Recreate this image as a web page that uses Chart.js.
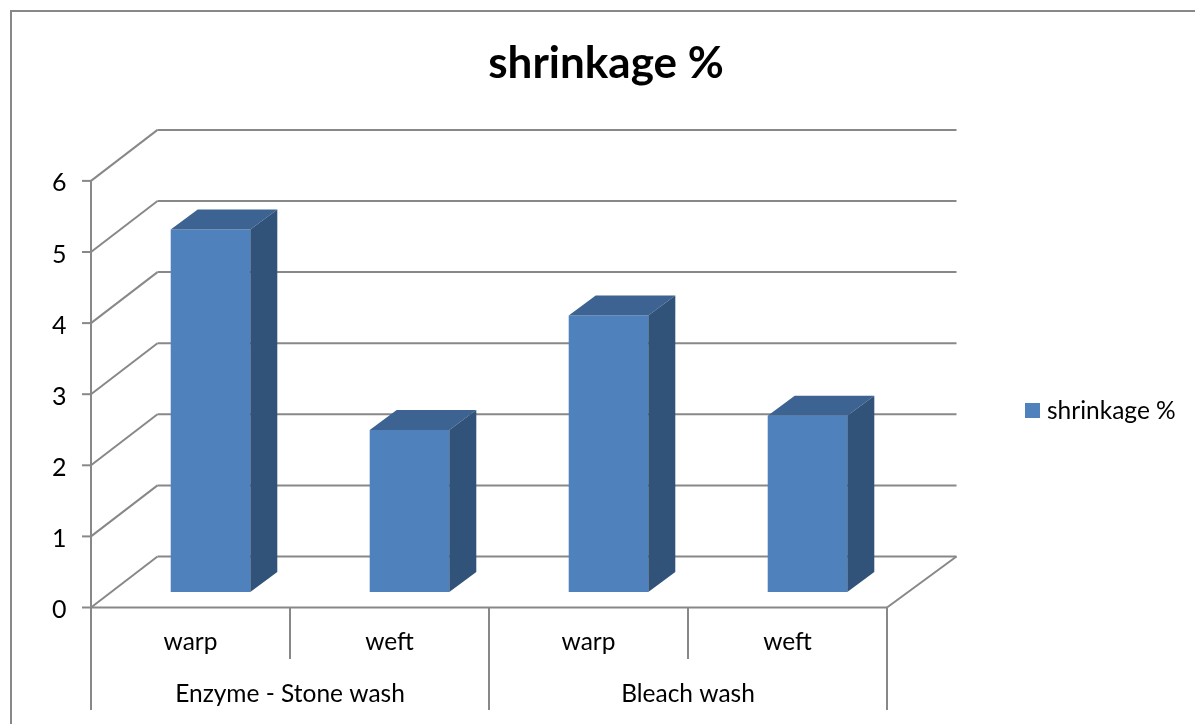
<!DOCTYPE html>
<html>
<head>
<meta charset="utf-8">
<title>shrinkage %</title>
<script src="https://cdn.jsdelivr.net/npm/chart.js@4/dist/chart.umd.min.js"></script>
<style>
  html, body { margin: 0; padding: 0; background: #fff; }
  canvas { display: block; }
</style>
</head>
<body>
<canvas id="chart" width="1195" height="724"></canvas>
<script>
const seriesName = 'shrinkage %';
const categories = ['warp', 'weft', 'warp', 'weft'];
const groups = ['Enzyme - Stone wash', 'Bleach wash'];
const shrinkage = [5.1, 2.28, 3.89, 2.48];
const yTicks = [0, 1, 2, 3, 4, 5, 6];

const FONT = 'Lato, Carlito, sans-serif';
const LINE = '#888888';

// Pseudo-3D box: bars sit mid-way between the front plane and the back wall
const FRONT = { dx: -20, dy: 15.5 };
const BACK = { dxLeft: 46.5, dxRight: 49.5, dy: -35.5 };
const BAR_DEPTH = { dx: 27, dy: -20 };

function segment(ctx, x1, y1, x2, y2) {
    ctx.beginPath();
    ctx.moveTo(x1, y1);
    ctx.lineTo(x2, y2);
    ctx.stroke();
}

function face(ctx, color, pts) {
    ctx.fillStyle = color;
    ctx.beginPath();
    pts.forEach(([x, y], i) => (i ? ctx.lineTo(x, y) : ctx.moveTo(x, y)));
    ctx.closePath();
    ctx.fill();
}

const box3d = {
    id: 'box3d',
    // walls, floor and axis lines go behind the bars
    beforeDatasetsDraw(chart) {
        const { ctx, chartArea: area, scales: { y } } = chart;
        const left = area.left + FRONT.dx;
        const right = area.right + FRONT.dx;
        const backLeft = area.left + BACK.dxLeft;
        const backRight = area.right + BACK.dxRight;
        const floorY = y.getPixelForValue(0) + FRONT.dy;

        ctx.save();
        ctx.strokeStyle = LINE;
        ctx.lineWidth = 2;

        // outer frame runs off the page on the right and bottom
        ctx.strokeRect(11, 11, chart.width + 20, chart.height + 20);

        yTicks.forEach(v => {
            const py = y.getPixelForValue(v);
            segment(ctx, left - 9, py + FRONT.dy, left, py + FRONT.dy);
            segment(ctx, left, py + FRONT.dy, backLeft, py + BACK.dy);
            segment(ctx, backLeft, py + BACK.dy, backRight, py + BACK.dy);
        });

        segment(ctx, left, y.getPixelForValue(6) + FRONT.dy, left, 710);
        segment(ctx, left, floorY, right, floorY);
        segment(ctx, right, floorY, backRight, y.getPixelForValue(0) + BACK.dy);

        // category separators: short between pairs, long between groups
        const step = (right - left) / categories.length;
        categories.forEach((_, i) => {
            segment(ctx, left + step * (i + 1), floorY, left + step * (i + 1), i % 2 ? 710 : 659);
        });
        ctx.restore();
    },
    afterDatasetsDraw(chart) {
        const { ctx, scales: { x } } = chart;
        const { dx, dy } = BAR_DEPTH;
        ctx.save();
        chart.getDatasetMeta(0).data.forEach(bar => {
            const l = bar.x - bar.width / 2;
            const r = bar.x + bar.width / 2;
            face(ctx, '#3c6392', [[l, bar.y], [l + dx, bar.y + dy], [r + dx, bar.y + dy], [r, bar.y]]);
            face(ctx, '#325379', [[r, bar.y], [r + dx, bar.y + dy], [r + dx, bar.base + dy], [r, bar.base]]);
        });

        // group labels under the category labels
        ctx.fillStyle = '#000';
        ctx.font = '24.5px ' + FONT;
        ctx.textAlign = 'center';
        ctx.textBaseline = 'middle';
        groups.forEach((name, i) => {
            const mid = (x.getPixelForTick(i * 2) + x.getPixelForTick(i * 2 + 1)) / 2;
            ctx.fillText(name, mid + FRONT.dx, 694);
        });

        // legend
        ctx.fillStyle = '#4f81bd';
        ctx.fillRect(1025, 403, 15, 15);
        ctx.fillStyle = '#000';
        ctx.textAlign = 'left';
        ctx.fillText(seriesName, 1047, 411);
        ctx.restore();
    },
};

new Chart(document.getElementById('chart'), {
    type: 'bar',
    data: {
        labels: categories,
        datasets: [{
            label: seriesName,
            data: shrinkage,
            backgroundColor: '#4f81bd',
            barPercentage: 0.4,
            categoryPercentage: 1,
        }],
    },
    plugins: [box3d],
    options: {
        responsive: false,
        animation: false,
        layout: { padding: { left: 17, right: 0, top: 0, bottom: 68 } },
        plugins: {
            legend: { display: false },
            tooltip: { enabled: false },
            title: {
                display: true,
                text: seriesName,
                color: '#000',
                font: { family: FONT, size: 44, weight: 'bold', lineHeight: 1.2 },
                padding: { top: 37.6, bottom: 75 },
            },
        },
        scales: {
            x: {
                grid: { display: false },
                border: { display: false },
                ticks: {
                    color: '#000',
                    font: { family: FONT, size: 24.5 },
                    labelOffset: FRONT.dx,
                    padding: 27,
                    maxRotation: 0,
                    autoSkip: false,
                },
                afterFit: s => { s.height = 64; },
            },
            y: {
                min: 0,
                max: 6,
                grid: { display: false },
                border: { display: false },
                ticks: {
                    color: '#000',
                    stepSize: 1,
                    font: { family: FONT, size: 25 },
                    labelOffset: FRONT.dy + 2.5,
                    padding: 36.5,
                },
                afterFit: s => { s.width = 94; },
            },
            // empty gutter that holds the plot clear of the legend
            gutter: {
                type: 'linear',
                position: 'right',
                grid: { display: false },
                border: { display: false },
                ticks: { display: false },
                afterFit: s => { s.width = 288; },
            },
        },
    },
});
</script>
</body>
</html>
